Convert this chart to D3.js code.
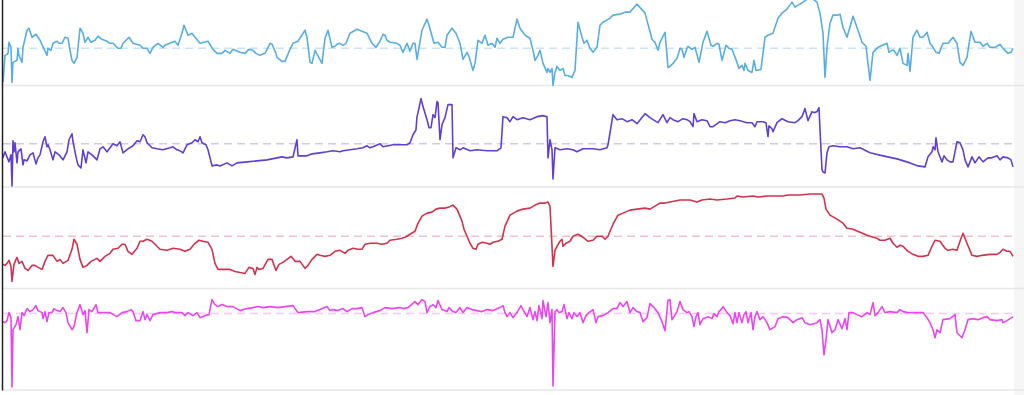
<!DOCTYPE html>
<html>
<head>
<meta charset="utf-8">
<script src="https://cdn.jsdelivr.net/npm/d3@7"></script>
<style>
  html, body { margin: 0; padding: 0; background: #fff; overflow: hidden; }
  svg { display: block; }
</style>
</head>
<body>
<svg id="chart"></svg>
<script>
// Data: [t, value] pairs, one array per panel
const panelKeys = ["blue", "purple", "red", "magenta"];

const blueSeries = [[0,3],[2,30],[4,31],[5,32],[6,43],[8,38],[9,3],[10,23],[12,24],[14,25],[15,37],[16,30],[19,23],[20,38],[24,55],[26,57],[29,48],[33,51],[37,45],[44,30],[45,37],[48,35],[50,42],[54,44],[56,42],[59,42],[62,48],[65,47],[67,35],[69,25],[71,22],[74,28],[77,57],[80,52],[82,43],[85,48],[88,43],[92,45],[95,49],[99,46],[104,44],[107,42],[110,42],[115,37],[118,37],[120,42],[126,48],[130,42],[137,40],[140,37],[144,37],[147,32],[150,38],[155,42],[160,38],[162,40],[169,43],[172,44],[175,40],[179,52],[181,60],[185,50],[189,52],[192,48],[197,42],[205,44],[210,36],[214,32],[219,32],[222,35],[227,32],[230,36],[237,33],[242,32],[246,36],[250,35],[253,32],[257,30],[262,32],[267,42],[269,41],[273,32],[274,28],[279,24],[282,24],[287,36],[290,42],[295,44],[302,55],[304,48],[307,23],[309,22],[312,35],[319,22],[322,47],[325,55],[329,38],[332,39],[334,41],[337,42],[340,40],[343,42],[347,52],[354,56],[359,54],[364,52],[369,42],[373,38],[377,44],[380,51],[382,50],[384,45],[387,43],[394,42],[397,40],[400,33],[404,42],[407,34],[410,42],[412,42],[414,26],[419,55],[424,66],[426,60],[431,42],[435,43],[439,38],[442,38],[444,50],[449,57],[453,52],[457,42],[460,26],[464,33],[466,29],[470,15],[472,22],[475,45],[479,42],[482,50],[485,40],[489,42],[492,38],[494,47],[497,42],[500,46],[505,48],[510,48],[514,66],[517,57],[522,50],[527,47],[530,35],[532,25],[535,30],[537,35],[540,22],[544,13],[545,17],[547,13],[549,17],[550,0],[552,13],[554,19],[557,15],[560,17],[562,10],[565,10],[569,8],[572,15],[575,63],[579,48],[581,42],[584,45],[587,37],[590,33],[594,38],[597,60],[600,63],[607,67],[610,70],[617,71],[622,73],[627,73],[634,81],[642,72],[649,46],[652,43],[655,35],[657,43],[662,53],[665,18],[667,19],[670,22],[674,27],[677,37],[679,36],[681,28],[684,37],[685,39],[689,36],[692,38],[696,23],[700,43],[704,54],[708,40],[710,39],[714,42],[716,41],[719,25],[723,40],[726,37],[729,36],[734,23],[736,17],[739,20],[741,15],[742,22],[745,15],[749,13],[751,25],[753,15],[758,16],[762,48],[765,50],[770,52],[775,67],[779,72],[784,76],[789,83],[792,78],[797,81],[800,83],[807,88],[814,83],[817,72],[820,52],[822,8],[824,38],[827,62],[830,70],[834,70],[837,71],[840,58],[844,48],[850,69],[855,55],[859,43],[863,39],[867,5],[870,33],[875,38],[884,42],[886,33],[889,35],[891,35],[894,30],[897,37],[900,22],[904,20],[905,32],[907,14],[910,48],[914,55],[917,48],[920,48],[924,53],[927,42],[930,38],[933,33],[936,32],[940,42],[945,42],[950,48],[954,42],[957,23],[960,20],[964,28],[968,54],[972,43],[977,43],[980,39],[984,42],[987,38],[992,38],[997,41],[1000,37],[1005,32],[1008,33],[1010,37]];

const purpleSeries = [[0,29],[2,35],[4,30],[6,25],[8,32],[9,1],[10,46],[11,35],[12,44],[14,24],[15,35],[18,38],[20,22],[21,27],[24,26],[27,32],[30,34],[33,23],[35,29],[37,32],[40,45],[42,50],[44,40],[45,42],[47,37],[50,27],[52,35],[56,32],[60,27],[64,35],[66,47],[69,53],[70,45],[73,30],[75,22],[78,19],[80,37],[83,24],[85,35],[89,32],[94,27],[97,38],[100,40],[104,35],[107,39],[110,43],[114,41],[117,45],[120,34],[125,38],[130,41],[134,46],[137,45],[140,52],[142,50],[144,44],[149,39],[154,38],[160,37],[167,39],[170,40],[174,37],[177,36],[180,34],[184,42],[189,44],[192,47],[195,45],[197,50],[199,44],[203,42],[205,37],[209,21],[214,22],[217,21],[224,24],[229,21],[234,24],[244,25],[254,26],[264,27],[274,29],[279,30],[284,29],[290,30],[294,47],[295,31],[304,31],[309,33],[317,34],[324,35],[330,36],[337,35],[340,36],[347,37],[354,38],[360,39],[364,41],[367,39],[370,40],[377,43],[380,40],[385,41],[390,42],[397,42],[404,42],[407,44],[410,52],[413,57],[414,70],[415,74],[418,88],[420,80],[424,67],[426,59],[428,59],[430,72],[432,69],[434,85],[435,84],[437,47],[439,62],[442,69],[445,82],[449,82],[450,29],[453,39],[457,37],[460,39],[467,36],[474,37],[484,36],[494,36],[498,39],[500,70],[504,69],[507,65],[510,70],[514,67],[520,69],[527,67],[534,70],[540,71],[544,70],[545,29],[547,47],[549,37],[550,8],[552,39],[557,37],[564,38],[570,37],[574,35],[580,38],[590,38],[597,37],[604,39],[605,42],[610,72],[614,67],[619,68],[624,65],[629,67],[634,63],[642,73],[647,69],[650,67],[655,64],[660,72],[664,64],[667,69],[670,67],[675,65],[680,68],[684,67],[687,65],[690,60],[691,73],[694,65],[699,67],[704,66],[707,60],[710,60],[717,65],[722,64],[727,66],[732,67],[737,66],[744,64],[749,64],[752,60],[754,65],[760,65],[763,64],[765,50],[766,61],[769,58],[770,55],[774,64],[779,68],[785,65],[792,64],[795,66],[799,70],[802,78],[805,66],[809,75],[811,74],[814,75],[816,79],[817,57],[819,17],[820,15],[822,14],[824,34],[826,40],[830,41],[837,40],[844,40],[850,38],[857,39],[867,34],[880,31],[894,28],[907,24],[915,21],[922,20],[925,30],[929,35],[930,40],[932,37],[933,49],[935,35],[939,25],[941,31],[944,27],[947,25],[950,25],[954,45],[957,44],[960,37],[962,27],[965,20],[969,30],[972,24],[976,30],[980,25],[985,29],[989,29],[994,31],[997,27],[1000,30],[1005,29],[1008,27],[1010,20]];

const redSeries = [[0,24],[2,23],[4,25],[6,28],[8,22],[9,7],[11,24],[13,29],[14,31],[16,25],[19,27],[22,20],[25,18],[29,23],[32,23],[35,21],[39,19],[42,27],[45,33],[50,33],[54,27],[57,29],[60,25],[65,28],[69,39],[71,49],[74,44],[77,29],[80,21],[84,23],[88,27],[94,30],[97,27],[102,32],[107,35],[110,39],[115,40],[119,44],[122,44],[125,37],[129,34],[134,40],[137,47],[140,47],[144,49],[149,47],[154,42],[157,39],[164,38],[170,40],[177,39],[182,37],[187,39],[192,45],[196,48],[200,47],[205,46],[209,39],[212,25],[215,19],[220,19],[227,19],[232,17],[237,16],[242,15],[246,21],[250,20],[252,14],[254,21],[256,19],[260,20],[265,29],[269,29],[273,18],[276,24],[280,26],[284,29],[288,32],[292,27],[297,27],[302,20],[305,23],[309,29],[314,34],[317,33],[322,32],[327,33],[332,37],[337,38],[342,35],[345,38],[350,40],[355,39],[359,39],[362,44],[367,45],[370,45],[374,45],[379,44],[384,45],[387,48],[394,49],[399,50],[402,51],[407,54],[412,57],[415,65],[419,72],[424,75],[429,76],[433,79],[437,80],[442,80],[446,81],[450,83],[454,79],[459,67],[461,59],[464,52],[467,45],[470,40],[473,39],[475,44],[479,46],[484,45],[487,44],[490,46],[495,47],[499,49],[502,62],[507,73],[514,77],[520,79],[527,80],[532,83],[537,85],[542,85],[545,86],[547,82],[548,62],[549,42],[550,22],[552,38],[554,42],[557,47],[559,49],[560,42],[563,45],[567,47],[570,52],[575,54],[580,51],[585,47],[590,48],[594,52],[599,52],[602,49],[605,52],[610,64],[615,73],[620,75],[627,78],[634,79],[642,80],[647,79],[652,82],[657,85],[662,85],[667,86],[672,87],[677,88],[687,88],[694,86],[699,88],[707,89],[714,88],[724,89],[732,90],[734,92],[740,91],[750,92],[755,91],[764,92],[770,92],[780,92],[785,93],[797,93],[807,94],[819,94],[821,90],[823,79],[827,73],[834,69],[840,65],[844,60],[850,59],[857,56],[864,53],[867,52],[874,50],[877,48],[882,48],[887,50],[890,45],[894,41],[897,43],[900,42],[905,37],[910,34],[915,32],[920,32],[925,33],[929,42],[932,48],[937,47],[942,40],[945,38],[950,39],[954,38],[957,47],[960,55],[964,45],[969,33],[974,32],[979,33],[987,34],[994,34],[997,36],[1000,39],[1004,37],[1007,37],[1010,32]];

const magentaSeries = [[0,68],[2,67],[4,69],[6,77],[8,72],[9,3],[10,60],[13,65],[15,73],[17,60],[19,77],[21,74],[24,81],[27,78],[30,80],[33,84],[35,79],[39,77],[40,71],[42,78],[44,68],[46,77],[49,77],[51,81],[54,79],[57,78],[60,82],[63,77],[65,67],[69,60],[71,63],[74,77],[77,85],[80,75],[82,79],[84,57],[86,80],[89,78],[93,85],[95,77],[100,77],[107,77],[114,73],[119,77],[124,78],[128,80],[130,78],[133,69],[137,69],[140,78],[142,70],[144,75],[147,69],[150,75],[157,77],[164,77],[169,78],[172,77],[179,77],[182,74],[185,77],[190,74],[194,77],[197,72],[202,74],[206,75],[209,90],[212,85],[215,83],[219,85],[224,83],[230,83],[237,79],[244,81],[250,82],[255,83],[260,82],[267,83],[275,82],[282,83],[290,84],[295,77],[304,78],[312,78],[317,80],[324,83],[327,79],[330,80],[335,79],[340,81],[344,78],[349,81],[354,81],[359,82],[362,73],[365,75],[370,77],[377,79],[382,82],[389,81],[397,82],[400,81],[405,82],[412,88],[415,85],[419,90],[422,88],[424,77],[427,83],[430,85],[433,82],[435,89],[439,80],[444,78],[446,82],[450,78],[453,77],[457,82],[460,77],[464,82],[469,80],[474,79],[479,78],[484,80],[490,79],[497,82],[500,84],[502,77],[504,73],[507,77],[510,72],[514,77],[518,84],[520,80],[524,73],[527,82],[530,70],[532,78],[534,69],[536,84],[539,71],[540,89],[543,73],[545,87],[547,67],[549,80],[550,4],[552,78],[554,80],[556,77],[559,78],[561,85],[564,71],[566,77],[569,71],[571,77],[574,73],[577,77],[580,67],[583,74],[586,77],[590,80],[593,67],[595,73],[600,74],[605,77],[610,81],[614,81],[617,87],[620,83],[624,88],[627,77],[630,82],[634,78],[637,77],[640,68],[644,72],[647,86],[650,83],[655,77],[659,68],[662,59],[665,89],[667,90],[669,70],[671,73],[674,78],[677,88],[680,80],[684,77],[686,78],[689,73],[691,63],[693,73],[695,77],[697,65],[700,71],[705,73],[709,71],[711,76],[714,73],[716,78],[719,81],[720,83],[724,77],[727,74],[730,66],[732,77],[734,67],[736,77],[739,67],[741,75],[743,78],[745,67],[748,77],[750,60],[752,73],[754,78],[757,70],[760,73],[764,67],[767,60],[772,63],[775,71],[780,73],[785,72],[790,67],[794,70],[799,72],[802,67],[807,65],[814,67],[817,70],[819,60],[821,35],[823,50],[825,70],[829,57],[832,60],[835,70],[839,61],[842,71],[844,60],[846,77],[850,77],[854,75],[859,73],[864,77],[867,75],[870,87],[872,74],[875,77],[879,83],[882,77],[887,78],[894,77],[897,80],[900,78],[905,77],[910,77],[920,77],[924,72],[927,67],[930,60],[932,52],[934,60],[937,57],[940,70],[947,71],[952,75],[954,57],[959,52],[962,60],[965,70],[970,71],[975,70],[980,72],[984,73],[987,70],[994,69],[999,70],[1000,67],[1004,69],[1007,71],[1010,73]];

const seriesData = [blueSeries, purpleSeries, redSeries, magentaSeries];
const refValues = [37, 43, 52, 76];
const lineColors = ["#58aee3", "#6040d0", "#d0334d", "#ea46ef"];
const refColors = ["#c8e4f7", "#d2c6f6", "#f5bfcc", "#f8c6f8"];

// Layout
const W = 1024, H = 395;
const margin = { top: -16, left: 3 };

const svg = d3.select("#chart")
    .attr("width", W)
    .attr("height", H);

// light strip at the right edge
svg.append("rect")
    .attr("x", 1014)
    .attr("y", 0)
    .attr("width", W - 1014)
    .attr("height", H)
    .attr("fill", "#f6f6f6");

const g = svg.append("g")
    .attr("transform", `translate(${margin.left}, ${margin.top})`);

const xScale = d3.scaleLinear().domain([0, 1010]).range([0, 1010]);
const band = d3.scaleBand().domain(panelKeys).range([0, 406]);
const yScale = d3.scaleLinear().domain([0, 101]).range([band.bandwidth(), 0]);

const line = d3.line()
    .x(d => xScale(d[0]))
    .y(d => yScale(d[1]))
    .curve(d3.curveLinear);

const panels = g.selectAll(".panel")
    .data(panelKeys)
    .enter().append("g")
    .attr("class", "panel")
    .attr("transform", d => `translate(0, ${band(d)})`);

// separators under each panel
panels.append("line")
    .attr("x1", 0)
    .attr("x2", W - margin.left)
    .attr("y1", band.bandwidth())
    .attr("y2", band.bandwidth())
    .attr("stroke", "#e7e7e7")
    .attr("stroke-width", 1.5);

// dashed reference lines
panels.append("line")
    .attr("x1", xScale(0))
    .attr("x2", xScale(1010))
    .attr("y1", (d, i) => yScale(refValues[i]))
    .attr("y2", (d, i) => yScale(refValues[i]))
    .attr("stroke", (d, i) => refColors[i])
    .attr("stroke-width", 1.5)
    .attr("stroke-dasharray", "8,5");

// series lines
panels.append("path")
    .attr("class", "line")
    .attr("d", (d, i) => line(seriesData[i]))
    .attr("fill", "none")
    .attr("stroke", (d, i) => lineColors[i])
    .attr("stroke-width", 1.6)
    .attr("stroke-linejoin", "round");

// left axis line
const yAll = d3.scaleLinear().domain([0, 1]).range([0, 406]);
g.append("g")
    .attr("transform", "translate(-1, 0)")
    .call(d3.axisLeft(yAll).ticks(0).tickSizeOuter(0))
    .select(".domain")
    .attr("stroke", "#222")
    .attr("stroke-width", 1.5);
</script>
</body>
</html>
